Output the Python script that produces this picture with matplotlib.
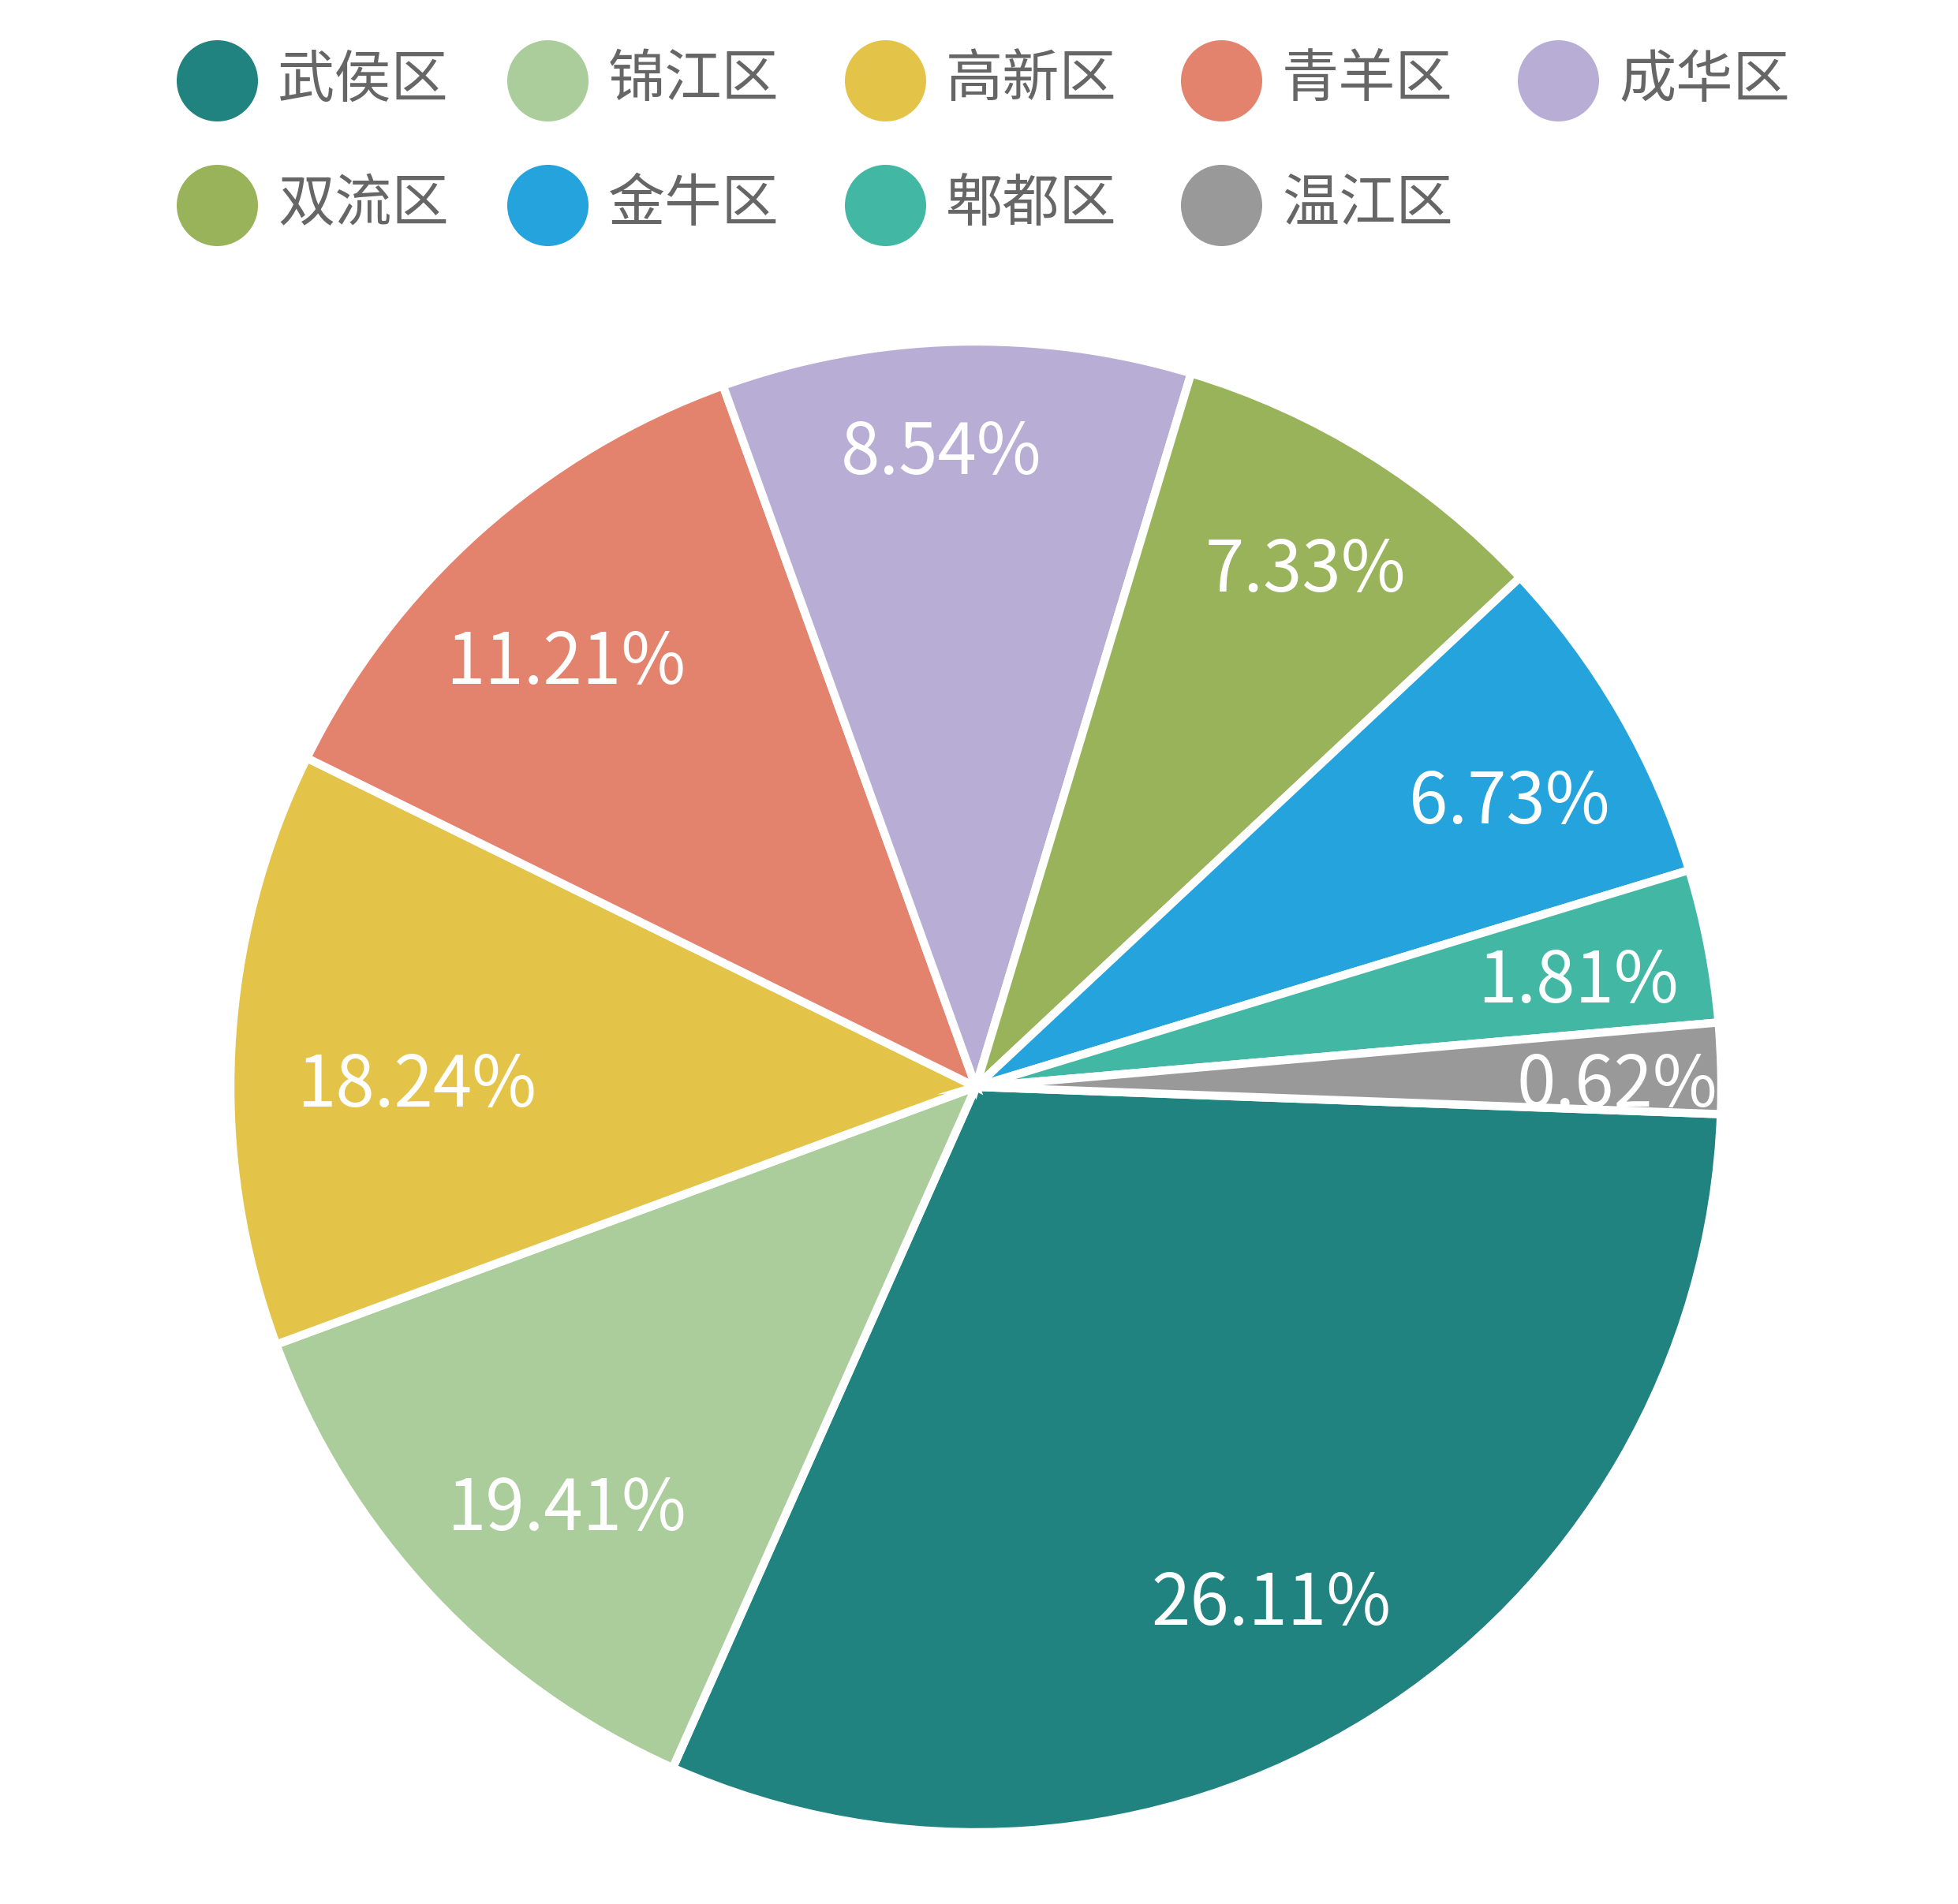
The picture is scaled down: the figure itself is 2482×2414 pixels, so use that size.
import matplotlib
matplotlib.use("Agg")
import matplotlib.pyplot as plt
import numpy as np

plt.rcParams['font.family'] = ['Noto Sans CJK SC', 'DejaVu Sans']

# ---- data ----
districts = ["武侯区", "锦江区", "高新区", "青羊区", "成华区", "双流区", "金牛区", "郫都区", "温江区"]
# wedge sizes as drawn (share of the circle, %)
shares = [31.08, 12.72, 12.89, 12.22, 10.17, 8.36, 7.28, 3.32, 1.96]
# percentage labels as printed on the slices
pct_labels = ["26.11%", "19.41%", "18.24%", "11.21%", "8.54%", "7.33%", "6.73%", "1.81%", "0.62%"]
colors = ["#218380", "#abcc9b", "#e3c449", "#e3836e", "#b8add4",
          "#99b35a", "#25a3dd", "#42b8a4", "#999999"]

# ---- layout (pixels) ----
W, H = 2482, 2414
DPI = 100
cx, cy, R = 1237, 1378, 945
# label placement (polar, degrees / fraction of radius)
label_ang = [-60.3, 226.0, 180.0, 134.1, 93.1, 57.4, 28.0, 9.8, 0.0]
label_r = [0.80, 0.79, 0.75, 0.79, 0.85, 0.82, 0.81, 0.82, 0.86]

fig = plt.figure(figsize=(W / DPI, H / DPI), dpi=DPI)
fig.patch.set_facecolor("white")

ax = fig.add_axes([(cx - R) / W, (H - cy - R) / H, 2 * R / W, 2 * R / H])
wedges, _ = ax.pie(shares, colors=colors, startangle=-2.1, counterclock=False,
                   radius=1.0, wedgeprops=dict(edgecolor="white", linewidth=7.5))
ax.set_xlim(-1, 1)
ax.set_ylim(-1, 1)
ax.set_aspect("equal")
ax.axis("off")

for lab, a, rf in zip(pct_labels, label_ang, label_r):
    t = np.deg2rad(a)
    ax.text(rf * np.cos(t), rf * np.sin(t), lab, ha="center", va="center",
            color="white", fontsize=64, fontweight="light")

# ---- legend ----
lax = fig.add_axes([0, 0, 1, 1])
lax.set_xlim(0, W)
lax.set_ylim(H, 0)
lax.axis("off")
col_x = [275, 694, 1122, 1548, 1975]
row_y = [102, 260]
for i, (name, c) in enumerate(zip(districts, colors)):
    r, k = divmod(i, 5)
    x, y = col_x[k], row_y[r]
    lax.scatter([x], [y], s=(103 * 72 / DPI) ** 2, color=c, marker="o", linewidths=0)
    lax.text(x + 77, y, name, ha="left", va="center", color="#666666", fontsize=52)

fig.savefig("out.png", dpi=DPI, facecolor="white")
